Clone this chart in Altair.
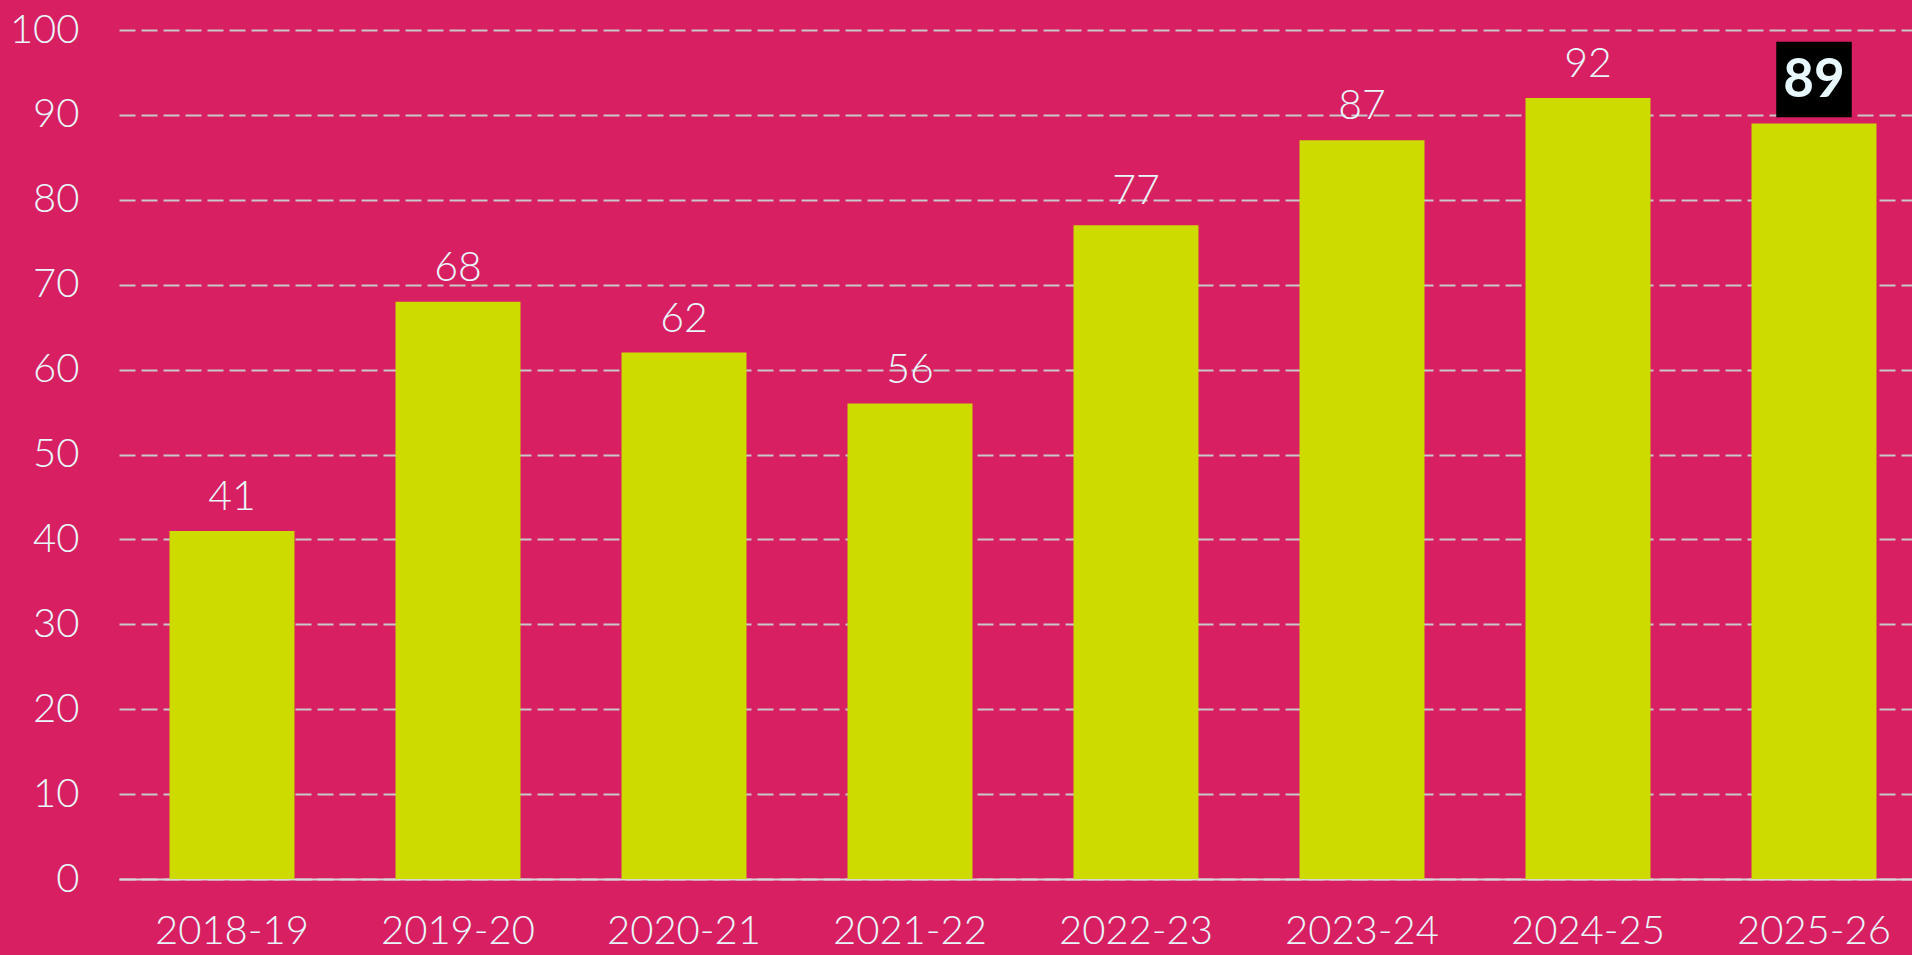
import altair as alt
import pandas as pd

years = ["2018-19", "2019-20", "2020-21", "2021-22", "2022-23", "2023-24", "2024-25", "2025-26"]
values = [41, 68, 62, 56, 77, 87, 92, 89]
highlight = ["no", "no", "no", "no", "no", "no", "no", "yes"]
y_ticks = [0, 10, 20, 30, 40, 50, 60, 70, 80, 90, 100]

df = pd.DataFrame({"year": years, "value": values, "hl": highlight})

BG = "#d81f62"
BAR = "#cddb00"
TXT = "#e8f7fc"
FONT = "Lato"

xenc = alt.X("year:N", sort=years, title=None,
             scale=alt.Scale(range=[0, 1808], paddingInner=0.447, paddingOuter=0.2235),
             axis=alt.Axis(labelAngle=0, labelFont=FONT, labelFontSize=40, labelFontWeight=300,
                           labelColor=TXT, labelPadding=32, ticks=False, domain=True,
                           domainColor="#d6d6d6", domainWidth=2, grid=False))
yenc = alt.Y("value:Q", title=None,
             scale=alt.Scale(domain=[0, 100], nice=False),
             axis=alt.Axis(values=y_ticks, labelFont=FONT, labelFontSize=40, labelFontWeight=300,
                           labelColor=TXT, labelPadding=40, ticks=False, domain=False,
                           grid=True, gridColor="#c8c8c8", gridWidth=2, gridDash=[16, 6]))

base = alt.Chart(df)

bars = base.mark_bar(color=BAR).encode(x=xenc, y=yenc)

labels = base.transform_filter(alt.datum.hl == "no").mark_text(
    font=FONT, fontSize=41, fontWeight=300, color=TXT, baseline="alphabetic", dy=-21
).encode(x=alt.X("year:N", sort=years), y="value:Q", text="value:Q")

box = base.transform_filter(alt.datum.hl == "yes").mark_point(
    shape="square", filled=True, size=5700, color="black", opacity=1, yOffset=-44
).encode(x=alt.X("year:N", sort=years), y="value:Q")

hl_text = base.transform_filter(alt.datum.hl == "yes").mark_text(
    font=FONT, fontSize=53, fontWeight="bold", color=TXT, baseline="middle", yOffset=-42
).encode(x=alt.X("year:N", sort=years), y="value:Q", text="value:Q")

chart = alt.layer(bars, labels, box, hl_text).properties(
    width=1793, height=849,
    autosize=alt.AutoSizeParams(type="none"),
    padding={"left": 119, "top": 30, "right": 0, "bottom": 76},
    background=BG,
).configure_view(stroke=None)

chart.save("out.html", embed_options={"renderer": "svg", "actions": False})
